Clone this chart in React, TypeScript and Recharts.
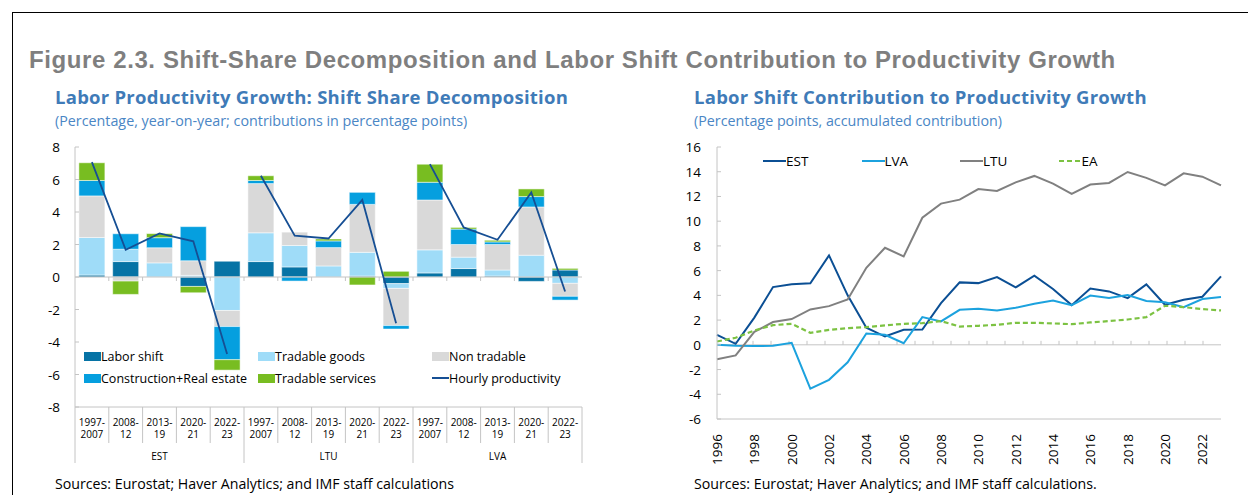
import React from 'react';
import {
  ComposedChart, LineChart, Bar, Line, XAxis, YAxis, ReferenceLine,
} from 'recharts';

// ---- left panel data: shift-share decomposition (pp) ----
const countries = ['EST', 'LTU', 'LVA'];
const periods = ['1997-2007', '2008-12', '2013-19', '2020-21', '2022-23'];

const laborShift = [0.12, 0.95, 0, -0.58, 0.97, 0.95, 0.62, 0, 0.06, -0.41, 0.25, 0.52, 0.06, -0.27, 0.43];
const tradableGoods = [2.31, 0.76, 0.87, 0.1, -2.06, 1.77, 1.32, 0.68, 1.46, -0.29, 1.42, 0.7, 0.37, 1.34, -0.39];
const nonTradable = [2.56, -0.25, 0.93, 0.9, -0.99, 3.03, 0.82, 1.13, 2.95, -2.29, 3.07, 0.78, 1.57, 2.97, -0.8];
const construction = [0.95, 0.95, 0.62, 2.1, -2.04, 0.19, -0.25, 0.41, 0.74, -0.21, 1.09, 0.95, 0.16, 0.64, -0.23];
const tradableServices = [1.09, -0.82, 0.25, -0.39, -0.64, 0.29, 0, 0.12, -0.49, 0.35, 1.11, 0.1, 0.1, 0.47, 0.1];
const hourlyProductivity = [7.07, 1.67, 2.68, 2.2, -4.74, 6.23, 2.54, 2.37, 4.74, -2.85, 6.95, 3.05, 2.29, 5.2, -0.89];

const leftTicks = [-8, -6, -4, -2, 0, 2, 4, 6, 8];

// ---- right panel data: accumulated labor shift contribution (pp) ----
const years = [
  1996, 1997, 1998, 1999, 2000, 2001, 2002, 2003, 2004, 2005, 2006, 2007, 2008, 2009,
  2010, 2011, 2012, 2013, 2014, 2015, 2016, 2017, 2018, 2019, 2020, 2021, 2022, 2023,
];
const est = [0.81, 0.08, 2.2, 4.67, 4.89, 4.97, 7.23, 4.0, 1.38, 0.67, 1.21, 1.24, 3.37, 5.05,
  4.99, 5.48, 4.64, 5.59, 4.51, 3.21, 4.56, 4.32, 3.78, 4.89, 3.24, 3.64, 3.89, 5.53];
const lva = [0.0, -0.08, -0.1, -0.08, 0.16, -3.55, -2.83, -1.41, 0.91, 0.81, 0.13, 2.24, 1.89, 2.83,
  2.91, 2.78, 3.0, 3.32, 3.59, 3.21, 3.99, 3.78, 4.02, 3.54, 3.45, 3.05, 3.7, 3.86];
const ltu = [-1.16, -0.86, 1.05, 1.84, 2.08, 2.86, 3.13, 3.67, 6.23, 7.85, 7.15, 10.28, 11.42, 11.74,
  12.6, 12.44, 13.14, 13.66, 13.04, 12.2, 12.96, 13.09, 13.98, 13.5, 12.9, 13.87, 13.6, 12.9];
const ea = [0.27, 0.57, 1.16, 1.59, 1.7, 0.97, 1.21, 1.35, 1.43, 1.57, 1.7, 1.75, 1.92, 1.48,
  1.54, 1.62, 1.78, 1.78, 1.73, 1.67, 1.81, 1.92, 2.05, 2.24, 3.16, 3.05, 2.89, 2.78];

const rightTicks = [-6, -4, -2, 0, 2, 4, 6, 8, 10, 12, 14, 16];

const FONT = '"Open Sans", "Noto Sans", sans-serif';
const GRID = '#c4c4c4';

const barSeries = [
  { key: 'laborShift', name: 'Labor shift', color: '#0673a5' },
  { key: 'tradableGoods', name: 'Tradable goods', color: '#9fdcf8' },
  { key: 'nonTradable', name: 'Non tradable', color: '#d9d9d9' },
  { key: 'construction', name: 'Construction+Real estate', color: '#059fdf' },
  { key: 'tradableServices', name: 'Tradable services', color: '#78bd21' },
];
const HOURLY_COLOR = '#164f94';

const lineSeries = [
  { key: 'EST', color: '#0b4f94', dash: undefined },
  { key: 'LVA', color: '#1ca2de', dash: undefined },
  { key: 'LTU', color: '#808080', dash: undefined },
  { key: 'EA', color: '#7cc242', dash: '5 3' },
];

const leftData = countries.flatMap((c, ci) =>
  periods.map((p, pi) => {
    const i = ci * periods.length + pi;
    return {
      name: `${c} ${p}`,
      country: c,
      period: p,
      laborShift: laborShift[i],
      tradableGoods: tradableGoods[i],
      nonTradable: nonTradable[i],
      construction: construction[i],
      tradableServices: tradableServices[i],
      hEST: c === 'EST' ? hourlyProductivity[i] : null,
      hLTU: c === 'LTU' ? hourlyProductivity[i] : null,
      hLVA: c === 'LVA' ? hourlyProductivity[i] : null,
    };
  }),
);

const rightData = years.map((y, i) => ({ year: y, EST: est[i], LVA: lva[i], LTU: ltu[i], EA: ea[i] }));

// left chart frame
const L_W = 592, L_H = 340;
const L_MARGIN = { top: 17, right: 10, left: 20, bottom: 5 };
const L_YW = 55;
const L_BAND = (L_W - L_MARGIN.left - L_MARGIN.right - L_YW) / leftData.length;

// right chart frame
const R_W = 591, R_H = 344;
const R_MARGIN = { top: 17, right: 10, left: 10, bottom: 5 };
const R_YW = 67;

const zeroLine = (n: number, dir: number) => (props: any) => {
  const { x1, y1, x2, y2 } = props;
  const step = (x2 - x1) / n;
  return (
    <g>
      <line x1={x1} y1={y1} x2={x2} y2={y2} stroke={GRID} strokeWidth={1} />
      {Array.from({ length: n - 1 }, (_, i) => (
        <line key={i} x1={x1 + step * (i + 1)} x2={x1 + step * (i + 1)} y1={y1} y2={y1 + dir * 4} stroke={GRID} />
      ))}
    </g>
  );
};

const yTick = (gap: number) => ({ x, y, payload }: any) => (
  <g>
    <line x1={x + gap} x2={x + gap + 4} y1={y} y2={y} stroke={GRID} />
    <text x={x} y={y} textAnchor="end" dominantBaseline="central" fontSize={13.5} fontFamily={FONT} fill="#000">
      {payload.value}
    </text>
  </g>
);

const PeriodTick = ({ x, y, payload, index }: any) => {
  const i = payload?.index ?? index;
  const row = leftData[i];
  const dash = row.period.indexOf('-');
  const a = row.period.slice(0, dash + 1);
  const b = row.period.slice(dash + 1);
  const left = x - L_BAND / 2;
  const right = x + L_BAND / 2;
  const isGroupStart = i % periods.length === 0;
  return (
    <g>
      <line x1={left} x2={left} y1={y} y2={y + (isGroupStart ? 56 : 36)} stroke={GRID} />
      {i === leftData.length - 1 && <line x1={right} x2={right} y1={y} y2={y + 56} stroke={GRID} />}
      <text x={x} y={y + 19} textAnchor="middle" fontSize={10} fontFamily={FONT} fill="#000">{a}</text>
      <text x={x} y={y + 31} textAnchor="middle" fontSize={10} fontFamily={FONT} fill="#000">{b}</text>
    </g>
  );
};

const GroupTick = ({ x, y, payload, index }: any) => {
  const i = payload?.index ?? index;
  if (i % periods.length !== 2) return <g />;
  return (
    <text x={x} y={y + 17} textAnchor="middle" fontSize={10} fontFamily={FONT} fill="#000">
      {leftData[i].country}
    </text>
  );
};

const YearTick = ({ x, y, payload }: any) => (
  <text x={x} y={y} transform={`rotate(-90 ${x} ${y})`} textAnchor="end" dominantBaseline="central"
    fontSize={13.5} fontFamily={FONT} fill="#000">
    {payload.value}
  </text>
);

const legendText: React.CSSProperties = { fontSize: 12.5, color: '#000', whiteSpace: 'nowrap' };

function LeftLegend() {
  const order = [
    [barSeries[0], barSeries[1], barSeries[2]],
    [barSeries[3], barSeries[4], null],
  ];
  return (
    <div style={{ position: 'absolute', left: 84, top: 345, fontFamily: FONT }}>
      {order.map((row, ri) => (
        <div key={ri} style={{ display: 'flex', height: 22, alignItems: 'center' }}>
          {row.map((s, ci) => (
            <div key={ci} style={{ width: 174, display: 'flex', alignItems: 'center' }}>
              {s ? (
                <>
                  <span style={{ width: 17, height: 9, background: s.color, display: 'inline-block' }} />
                  <span style={legendText}>{s.name}</span>
                </>
              ) : (
                <>
                  <span style={{ width: 17, height: 2, background: HOURLY_COLOR, display: 'inline-block' }} />
                  <span style={legendText}>Hourly productivity</span>
                </>
              )}
            </div>
          ))}
        </div>
      ))}
    </div>
  );
}

function RightLegend() {
  return (
    <div style={{ position: 'absolute', left: 763, top: 152, display: 'flex', fontFamily: FONT }}>
      {lineSeries.map((s) => (
        <div key={s.key} style={{ width: 98.5, display: 'flex', alignItems: 'center' }}>
          <svg width={23} height={4}>
            <line x1={0} x2={23} y1={2} y2={2} stroke={s.color} strokeWidth={s.dash ? 2.2 : 2} strokeDasharray={s.dash} />
          </svg>
          <span style={{ fontSize: 13.5, color: '#000' }}>{s.key}</span>
        </div>
      ))}
    </div>
  );
}

const subTitle: React.CSSProperties = {
  position: 'absolute', fontSize: 18.5, fontWeight: 700, color: '#3f7bb8', whiteSpace: 'nowrap', lineHeight: '24px',
  letterSpacing: 0.25,
};
const subNote: React.CSSProperties = {
  position: 'absolute', fontSize: 14.3, color: '#4a86c5', whiteSpace: 'nowrap', lineHeight: '18px',
};
const source: React.CSSProperties = {
  position: 'absolute', fontSize: 14.2, color: '#000', whiteSpace: 'nowrap', lineHeight: '18px',
};

export default function App() {
  return (
    <div style={{
      position: 'absolute', left: 0, top: 0, width: 1248, height: 495, overflow: 'hidden',
      background: '#fff', fontFamily: FONT,
    }}>
      <div style={{
        position: 'absolute', left: 12, top: 12, width: 1400, height: 600,
        borderTop: '1.5px solid #000', borderLeft: '1.5px solid #000',
      }} />
      <div style={{
        position: 'absolute', left: 29, top: 46, fontFamily: '"Liberation Sans", Arial, sans-serif',
        fontSize: 24, fontWeight: 700, color: '#7f7f7f', lineHeight: '28px', whiteSpace: 'nowrap',
        letterSpacing: 0.6,
      }}>
        Figure 2.3. Shift-Share Decomposition and Labor Shift Contribution to Productivity Growth
      </div>

      <div style={{ ...subTitle, left: 55, top: 85 }}>Labor Productivity Growth: Shift Share Decomposition</div>
      <div style={{ ...subNote, left: 55, top: 112 }}>(Percentage, year-on-year; contributions in percentage points)</div>

      <div style={{ ...subTitle, left: 694, top: 85 }}>Labor Shift Contribution to Productivity Growth</div>
      <div style={{ ...subNote, left: 694, top: 112 }}>(Percentage points, accumulated contribution)</div>

      <div style={{ position: 'absolute', left: 0, top: 130 }}>
        <ComposedChart width={L_W} height={L_H} data={leftData} margin={L_MARGIN}
          stackOffset="sign" barCategoryGap="11.5%">
          <XAxis dataKey="name" interval={0} height={36} tickSize={0} tickMargin={0}
            axisLine={{ stroke: GRID }} tickLine={false} tick={PeriodTick} />
          <XAxis xAxisId="grp" dataKey="name" interval={0} height={22} tickSize={0} tickMargin={0}
            axisLine={false} tickLine={false} tick={GroupTick} />
          <XAxis xAxisId="top" dataKey="name" orientation="top" height={0}
            axisLine={{ stroke: GRID }} tickLine={false} tick={false} />
          <YAxis domain={[-8, 8]} ticks={leftTicks} width={L_YW} tickSize={0} tickMargin={15}
            axisLine={{ stroke: GRID }} tickLine={false} tick={yTick(15)} interval={0} />
          <YAxis yAxisId="right" orientation="right" width={0} domain={[0, 1]}
            axisLine={{ stroke: GRID }} tickLine={false} tick={false} />
          <ReferenceLine y={0} shape={zeroLine(leftData.length, 1)} />
          {barSeries.map((s) => (
            <Bar key={s.key} dataKey={s.key} name={s.name} stackId="a" fill={s.color}
              stroke="#ffffff" strokeWidth={0.5} isAnimationActive={false} />
          ))}
          {countries.map((c) => (
            <Line key={c} dataKey={`h${c}`} stroke={HOURLY_COLOR} strokeWidth={1.8} dot={false}
              activeDot={false} connectNulls={false} isAnimationActive={false} />
          ))}
        </ComposedChart>
      </div>
      <LeftLegend />

      <div style={{ position: 'absolute', left: 640, top: 130 }}>
        <LineChart width={R_W} height={R_H} data={rightData} margin={R_MARGIN}>
          <XAxis dataKey="year" interval={1} height={50} tickSize={0} tickMargin={15}
            axisLine={{ stroke: GRID }} tickLine={false} tick={YearTick} />
          <XAxis xAxisId="top" dataKey="year" orientation="top" height={0}
            axisLine={{ stroke: GRID }} tickLine={false} tick={false} />
          <YAxis domain={[-6, 16]} ticks={rightTicks} width={R_YW} tickSize={0} tickMargin={16}
            axisLine={{ stroke: GRID }} tickLine={false} tick={yTick(16)} interval={0} />
          <YAxis yAxisId="right" orientation="right" width={0} domain={[0, 1]}
            axisLine={{ stroke: GRID }} tickLine={false} tick={false} />
          <ReferenceLine y={0} shape={zeroLine(years.length, -1)} />
          {lineSeries.map((s) => (
            <Line key={s.key} dataKey={s.key} stroke={s.color} strokeWidth={s.dash ? 2.2 : 2}
              strokeDasharray={s.dash} dot={false} activeDot={false} isAnimationActive={false} />
          ))}
        </LineChart>
      </div>
      <RightLegend />

      <div style={{ ...source, left: 55, top: 475 }}>Sources: Eurostat; Haver Analytics; and IMF staff calculations</div>
      <div style={{ ...source, left: 694, top: 475 }}>Sources: Eurostat; Haver Analytics; and IMF staff calculations.</div>
    </div>
  );
}
